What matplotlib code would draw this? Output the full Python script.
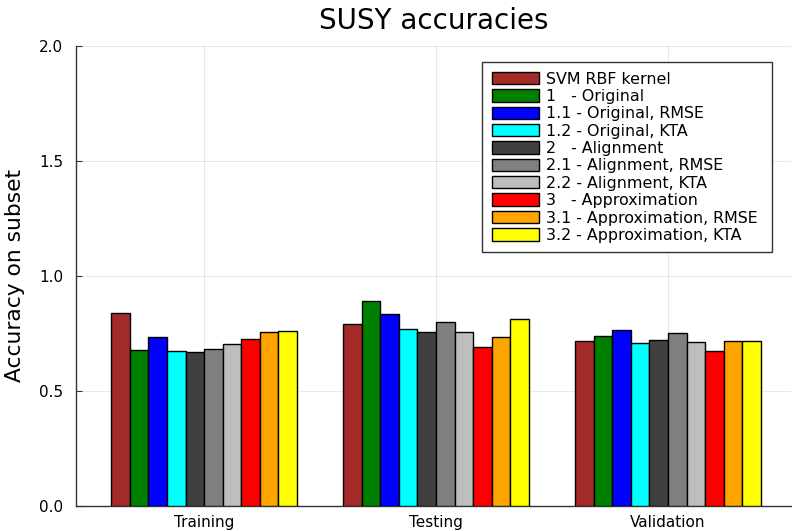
import matplotlib
matplotlib.use("Agg")
import matplotlib.pyplot as plt
import numpy as np

groups = ["Training", "Testing", "Validation"]
series = ["SVM RBF kernel", "1   - Original", "1.1 - Original, RMSE", "1.2 - Original, KTA",
          "2   - Alignment", "2.1 - Alignment, RMSE", "2.2 - Alignment, KTA",
          "3   - Approximation", "3.1 - Approximation, RMSE", "3.2 - Approximation, KTA"]
colors = ["#A52A2A", "#008000", "#0000FF", "#00FFFF", "#404040", "#808080",
          "#BEBEBE", "#FF0000", "#FFA500", "#FFFF00"]
training = [0.838, 0.677, 0.735, 0.672, 0.668, 0.683, 0.703, 0.725, 0.754, 0.758]
testing = [0.790, 0.888, 0.833, 0.767, 0.757, 0.800, 0.755, 0.690, 0.733, 0.812]
validation = [0.717, 0.738, 0.764, 0.706, 0.719, 0.751, 0.712, 0.674, 0.717, 0.717]

values = np.array([training, testing, validation])

fig = plt.figure(figsize=(7.92, 5.31), dpi=100)
ax = fig.add_axes([76/792, 1 - 505.5/531, (791-76)/792, (505.5-46)/531])

x = np.arange(1, len(groups) + 1)
n = len(series)
total = 0.8
w = total / n
for i in range(n):
    ax.bar(x - total/2 + w*(i + 0.5), values[:, i], width=w, color=colors[i],
           edgecolor="black", linewidth=1.0, label=series[i], zorder=3)

ax.set_xlim(0.448, 3.53)
ax.set_ylim(0, 2.0)
ax.set_xticks(x)
ax.set_xticklabels(groups, fontsize=11)
ax.set_yticks([0.0, 0.5, 1.0, 1.5, 2.0])
ax.set_yticklabels(["0.0", "0.5", "1.0", "1.5", "2.0"], fontsize=11)
ax.grid(True, color="#000000", alpha=0.1, linewidth=0.6, zorder=0)
ax.set_axisbelow(True)
for s in ["top", "right"]:
    ax.spines[s].set_visible(False)
for s in ["left", "bottom"]:
    ax.spines[s].set_color("#333333")
    ax.spines[s].set_linewidth(1.0)
ax.tick_params(direction="in", length=4, width=0.8, color="#333333")
ax.tick_params(axis="y", pad=9)
ax.tick_params(axis="x", pad=7)
ax.set_ylabel("Accuracy on subset", fontsize=15.7, labelpad=10)
ax.set_title("SUSY accuracies", fontsize=20, pad=12)

leg = ax.legend(loc="upper left",
                bbox_to_anchor=(482/792, 1 - 253/531, (772-482)/792, (253-62)/531),
                bbox_transform=fig.transFigure, mode="expand",
                prop={"size": 11.4}, frameon=True,
                fancybox=False, edgecolor="#333333", framealpha=1,
                handlelength=3.0, handleheight=0.82, handletextpad=0.45,
                labelspacing=0.15, borderpad=0.6, borderaxespad=0)
leg.get_frame().set_linewidth(1.0)

fig.savefig("out.png", dpi=100)
